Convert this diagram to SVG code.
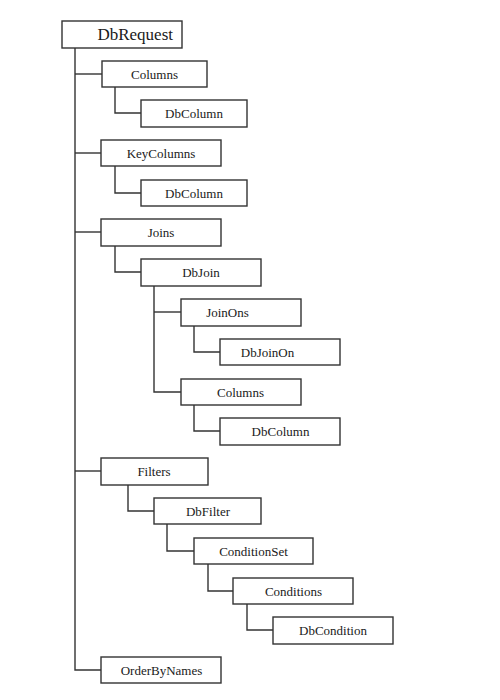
<svg xmlns="http://www.w3.org/2000/svg" width="500" height="700" viewBox="0 0 500 700">
<style>
.box{fill:#fff;stroke:#333;stroke-width:1.4}
.lbl{font-family:"Liberation Serif","Times New Roman",serif;font-size:13px;fill:#1a1a1a;text-anchor:middle}
.big{font-size:17px}
.conn{fill:none;stroke:#333;stroke-width:1.4}
</style>
<rect width="500" height="700" fill="#fff"/>
<g id="connectors" class="conn">
<path d="M75 48V670H101"/>
<path d="M75 74H102"/>
<path d="M75 153H101"/>
<path d="M75 232H101"/>
<path d="M75 471H101"/>
<path d="M115 87V113H141"/>
<path d="M115 166V193H141"/>
<path d="M115 246V272H141"/>
<path d="M154 286V392H181"/>
<path d="M154 312H181"/>
<path d="M194 326V352H220"/>
<path d="M194 405V431H220"/>
<path d="M128 485V511H154"/>
<path d="M167 524V551H194"/>
<path d="M208 564V591H233"/>
<path d="M247 604V630H273"/>
</g>
<g id="n-dbrequest"><rect class="box" x="62" y="21" width="120" height="27"/><text class="lbl big" x="173" y="40" style="text-anchor:end">DbRequest</text></g>
<g id="n-columns1"><rect class="box" x="102" y="61" width="105" height="26"/><text class="lbl" x="154.5" y="78.5">Columns</text></g>
<g id="n-dbcolumn1"><rect class="box" x="141" y="100" width="106" height="27"/><text class="lbl" x="194" y="118">DbColumn</text></g>
<g id="n-keycolumns"><rect class="box" x="101" y="140" width="120" height="26"/><text class="lbl" x="161" y="157.5">KeyColumns</text></g>
<g id="n-dbcolumn2"><rect class="box" x="141" y="180" width="106" height="26"/><text class="lbl" x="194" y="197.5">DbColumn</text></g>
<g id="n-joins"><rect class="box" x="101" y="219" width="120" height="27"/><text class="lbl" x="161" y="237">Joins</text></g>
<g id="n-dbjoin"><rect class="box" x="141" y="259" width="120" height="27"/><text class="lbl" x="201" y="277">DbJoin</text></g>
<g id="n-joinons"><rect class="box" x="181" y="299" width="120" height="27"/><text class="lbl" x="227.5" y="317">JoinOns</text></g>
<g id="n-dbjoinon"><rect class="box" x="220" y="339" width="120" height="26"/><text class="lbl" x="267.5" y="356.5">DbJoinOn</text></g>
<g id="n-columns2"><rect class="box" x="181" y="379" width="120" height="26"/><text class="lbl" x="240.5" y="396.5">Columns</text></g>
<g id="n-dbcolumn3"><rect class="box" x="220" y="418" width="120" height="27"/><text class="lbl" x="280.5" y="436">DbColumn</text></g>
<g id="n-filters"><rect class="box" x="101" y="458" width="107" height="27"/><text class="lbl" x="154" y="476">Filters</text></g>
<g id="n-dbfilter"><rect class="box" x="154" y="498" width="107" height="26"/><text class="lbl" x="208" y="515.5">DbFilter</text></g>
<g id="n-conditionset"><rect class="box" x="194" y="538" width="119" height="26"/><text class="lbl" x="253.5" y="555.5">ConditionSet</text></g>
<g id="n-conditions"><rect class="box" x="233" y="578" width="120" height="26"/><text class="lbl" x="293.5" y="595.5">Conditions</text></g>
<g id="n-dbcondition"><rect class="box" x="273" y="617" width="120" height="27"/><text class="lbl" x="333" y="635">DbCondition</text></g>
<g id="n-orderbynames"><rect class="box" x="101" y="657" width="120" height="26"/><text class="lbl" x="161.5" y="674.5">OrderByNames</text></g>
</svg>
